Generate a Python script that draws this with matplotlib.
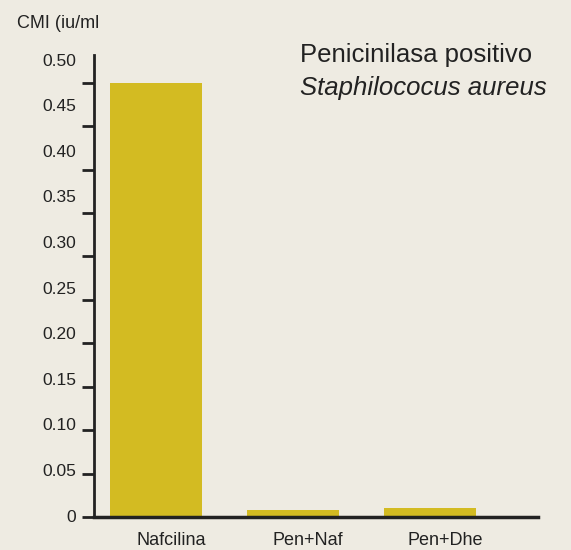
import matplotlib.pyplot as plt
from matplotlib.transforms import ScaledTranslation

plt.rcParams['font.family'] = ['Liberation Sans', 'DejaVu Sans']

drugs = ['Nafcilina', 'Pen+Naf', 'Pen+Dhe']
cmi = [0.50, 0.008, 0.010]
yticks = [0, 0.05, 0.10, 0.15, 0.20, 0.25, 0.30, 0.35, 0.40, 0.45, 0.50]
ytick_labels = ['0', '0.05', '0.10', '0.15', '0.20', '0.25', '0.30', '0.35', '0.40', '0.45', '0.50']

bg = '#eeebe2'
bar_color = '#d3bb22'
ink = '#222222'

fig = plt.figure(figsize=(5.71, 5.5), dpi=100, facecolor=bg)
ax = fig.add_axes([0.1646, 0.06, 0.7776, 0.84], facecolor=bg)

x = range(len(drugs))
ax.bar(x, cmi, width=0.67, color=bar_color, zorder=1)

ax.set_xlim(-0.453, 2.79)
ax.set_ylim(0, 0.532)

for s in ['top', 'right']:
    ax.spines[s].set_visible(False)
ax.spines['left'].set_linewidth(2)
ax.spines['bottom'].set_linewidth(2.5)
ax.spines['left'].set_color(ink)
ax.spines['bottom'].set_color(ink)
ax.spines['bottom'].set_zorder(3)

ax.set_yticks(yticks)
ax.set_yticklabels([])
ax.tick_params(axis='y', direction='out', length=9, width=2, color=ink)

# labels sit a bit higher than the tick marks in the original
for v, lab in zip(yticks, ytick_labels):
    ax.text(-0.04, v * 1.05, lab, transform=ax.get_yaxis_transform(),
            ha='right', va='center', fontsize=12.5, color=ink)

ax.set_xticks(list(x))
ax.set_xticklabels(drugs, fontsize=13, color=ink)
ax.tick_params(axis='x', length=0, pad=11)
# category names are shifted a little right of the bar centres
shift = ScaledTranslation(0.15, 0, fig.dpi_scale_trans)
for lbl in ax.get_xticklabels():
    lbl.set_transform(lbl.get_transform() + shift)

fig.text(17 / 571, 1 - 24 / 550, 'CMI (iu/ml', fontsize=13, color=ink,
         ha='left', va='center')
fig.text(300 / 571, 1 - 62 / 550, 'Penicinilasa positivo', fontsize=18.5,
         color=ink, ha='left', va='baseline')
fig.text(300 / 571, 1 - 95 / 550, 'Staphilococus aureus', fontsize=18.5,
         color=ink, ha='left', va='baseline', style='italic')

fig.savefig('out.png', dpi=100, facecolor=bg)
